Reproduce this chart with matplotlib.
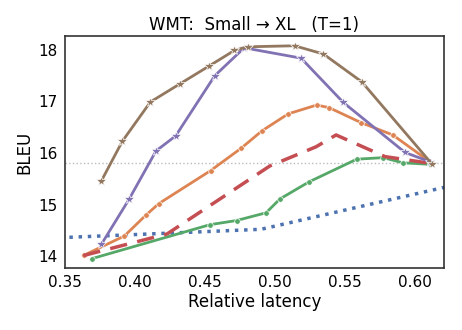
import numpy as np
import matplotlib
matplotlib.use("Agg")
import matplotlib.pyplot as plt

# valori
blue_x = [0.34, 0.49, 0.63]
blue_y = [14.35, 14.52, 15.39]

orange_x = [0.3638, 0.3924, 0.4076, 0.4171, 0.4541, 0.4757, 0.4907, 0.5095,
            0.5298, 0.5386, 0.5614, 0.5841, 0.6107]
orange_y = [14.02, 14.39, 14.79, 15.02, 15.66, 16.09, 16.43, 16.76,
            16.93, 16.88, 16.59, 16.35, 15.83]

green_x = [0.3691, 0.4536, 0.4725, 0.4936, 0.5036, 0.5243, 0.5584, 0.5774,
           0.5912, 0.6107]
green_y = [13.95, 14.61, 14.69, 14.84, 15.11, 15.44, 15.88, 15.91,
           15.81, 15.78]

red_x = [0.3631, 0.4229, 0.4964, 0.5293, 0.5436, 0.5786, 0.6107]
red_y = [14.01, 14.43, 15.75, 16.12, 16.35, 15.93, 15.80]

purple_x = [0.376, 0.3957, 0.415, 0.429, 0.457, 0.478, 0.5186, 0.5488,
            0.5929, 0.6107]
purple_y = [14.23, 15.10, 16.04, 16.33, 17.50, 18.04, 17.84, 16.98,
            16.01, 15.83]

brown_x = [0.376, 0.391, 0.411, 0.432, 0.4525, 0.471, 0.4805, 0.514,
           0.5346, 0.562, 0.612]
brown_y = [15.46, 16.23, 16.99, 17.34, 17.68, 17.99, 18.06, 18.08,
           17.92, 17.38, 15.79]

baseline = 15.8

fig = plt.figure(figsize=(4.62, 3.30), dpi=100)
ax = fig.add_axes([0.1407, 0.188, 0.8203, 0.703])

ax.axhline(baseline, color="#bbbbbb", lw=1, ls=":", zorder=1)

ax.plot(blue_x, blue_y, color="#4C72B0", lw=2.5, ls=":")
ax.plot(orange_x, orange_y, color="#DD8452", lw=2, marker="o", ms=4,
        mec="white", mew=0.5)
ax.plot(green_x, green_y, color="#55A868", lw=2, marker="o", ms=4,
        mec="white", mew=0.5)
ax.plot(red_x, red_y, color="#C44E52", lw=2.5, ls=(0, (5, 3)))
ax.plot(purple_x, purple_y, color="#8172B3", lw=2, marker="*", ms=7,
        mec="white", mew=0.5)
ax.plot(brown_x, brown_y, color="#937860", lw=2, marker="*", ms=7,
        mec="white", mew=0.5)

ax.set_xlim(0.35, 0.6207)
ax.set_ylim(13.77, 18.27)
ax.set_xticks([0.35, 0.40, 0.45, 0.50, 0.55, 0.60])
ax.set_yticks([14, 15, 16, 17, 18])
ax.tick_params(labelsize=11, length=0, pad=5)
for s in ax.spines.values():
    s.set_color("#333333")
    s.set_linewidth(1.2)

ax.set_xlabel("Relative latency", fontsize=12, labelpad=2)
ax.set_ylabel("BLEU", fontsize=12, labelpad=4)
ax.set_title("WMT:  Small \u2192 XL   (T=1)", fontsize=12, pad=4)

fig.savefig("out.png", dpi=100)
